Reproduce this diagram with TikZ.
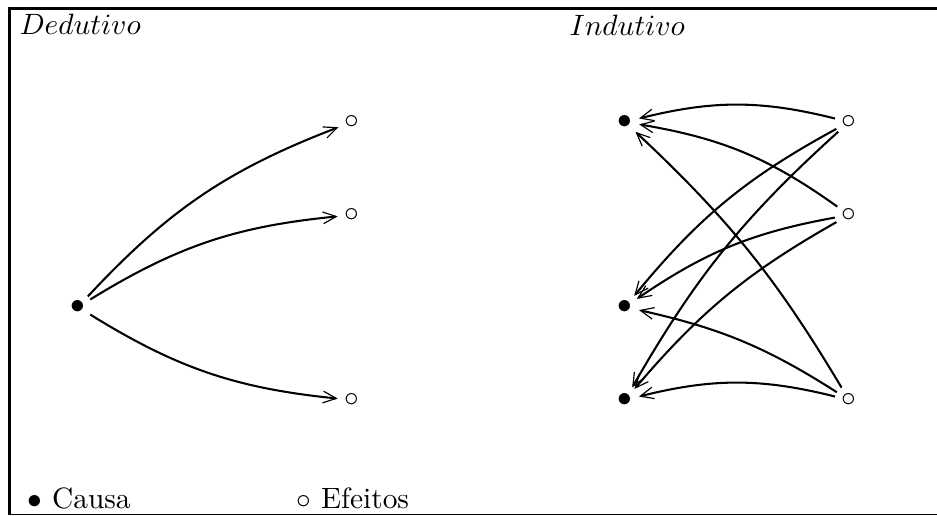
\documentclass[tikz,border=0pt]{standalone}
\usepackage{amsmath, amssymb}
\usetikzlibrary{arrows.meta}

\begin{document}
\begin{tikzpicture}[
  x=0.34pt, y=-0.34pt,
  pt/.style={circle, inner sep=0pt, minimum size=9.4pt},
  lbl/.style={anchor=base west, inner sep=0pt},
  arr/.style={line width=0.7pt,
              -{Straight Barb[length=4.5pt, width=4pt, line width=0.4pt]}}
]
  \useasboundingbox (0,0) rectangle (937,516);
  % frame, cut on the right
  \draw[line width=1pt] (8,8.5) -- (937,8.5);
  \draw[line width=1pt] (9.5,8) -- (9.5,515);
  \draw[line width=0.45pt] (9,514.6) -- (937,514.6);
  \node[lbl] (tded) at (19,35) {$Dedutivo$};
  \node[lbl] (tind) at (569,36) {$Indutivo$};
  % dedutivo: one cause, three effects
  \node[pt] (c0) at (78,307) {$\bullet$};
  \foreach \y/\nm in {122/e1, 215/e2, 400/e3}
    \node[pt] (\nm) at (352,\y) {$\circ$};
  \draw[arr] (c0) to[bend left=13] (e1);
  \draw[arr] (c0) to[bend left=13] (e2);
  \draw[arr] (c0) to[bend right=13] (e3);
  % indutivo: every effect back to every cause
  \foreach \y/\i in {122/1, 307/2, 400/3}
    \node[pt] (a\i) at (625,\y) {$\bullet$};
  \foreach \y/\i in {122/1, 215/2, 400/3}
    \node[pt] (b\i) at (849,\y) {$\circ$};
  \foreach \s/\t/\b in {1/1/14, 1/2/11, 1/3/9, 2/1/13, 2/2/12, 2/3/10,
                        3/1/8, 3/2/10, 3/3/14}
    \draw[arr] (b\s) to[bend right=\b] (a\t);
  % legend
  \node[lbl] (lc) at (27,508.5) {$\bullet$ Causa};
  \node[lbl] (le) at (296,508.5) {$\circ$ Efeitos};
\end{tikzpicture}
\end{document}
